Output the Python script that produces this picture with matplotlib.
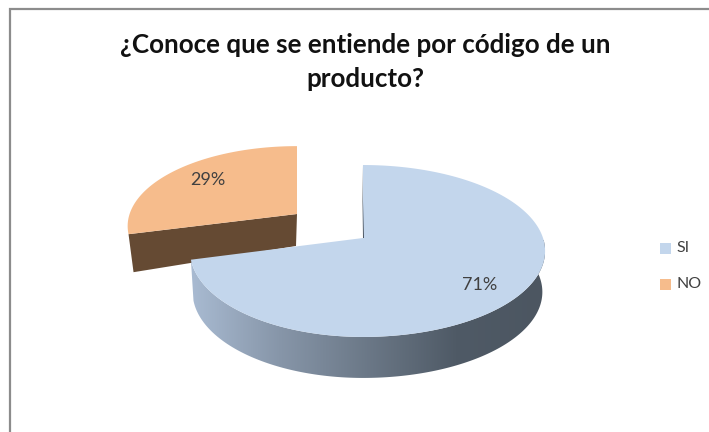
import numpy as np
import matplotlib
matplotlib.use("Agg")
import matplotlib.pyplot as plt
from matplotlib.colors import LinearSegmentedColormap
from matplotlib.patches import Polygon, Rectangle

TITLE = "¿Conoce que se entiende por código de un\nproducto?"
labels = ["SI", "NO"]
shares = [71, 29]
top_colors = ["#C3D6EC", "#F6BC8C"]
CUT_BROWN = "#654A33"

W, H = 709, 432
RX_RIGHT, RX_LEFT, RY, K = 180, 171, 84, 0.151  # pie radii and perspective strength
DEPTH = 41


def rim(a0, a1, scale=1.0, n=300, rx_left=RX_LEFT):
    # points of the pie rim, angles clockwise from 12 o'clock
    t = np.radians(np.linspace(a0, a1, n))
    u, v = np.sin(t), -np.cos(t)
    s = scale / (1 - K * v)
    return np.where(u > 0, RX_RIGHT, rx_left) * u * s, RY * v * s


plt.rcParams["font.family"] = ["Lato", "DejaVu Sans"]
fig = plt.figure(figsize=(W / 100, H / 100), dpi=100)
ax = fig.add_axes([0, 0, 1, 1])
ax.set_xlim(0, W)
ax.set_ylim(H, 0)
ax.axis("off")

# chart frame, only top and left edges are on the canvas
ax.plot([10, 10, W], [H, 9, 9], color="#8C8C8C", lw=1.6, solid_joinstyle="miter")

angle_si = shares[0] / sum(shares) * 360

# NO slice, pulled out and slightly further away
ox, oy = 297, 214
xs, ys = rim(angle_si, 360, scale=0.93, rx_left=180)
left_x, left_y = ox + xs[0], oy + ys[0]
ax.add_patch(Polygon([(ox, oy), (left_x, left_y), (left_x + 5, left_y + 38), (ox - 1, oy + 32)],
                     fc=CUT_BROWN, ec="none", zorder=2))
ax.add_patch(Polygon(np.r_[[[ox, oy]], np.c_[ox + xs, oy + ys]], fc=top_colors[1], ec="none", zorder=3))

# SI slice: gradient side wall first, then the top surface
cx, cy = 363, 238
xs, ys = rim(0, angle_si)
low_x, low_y = cx + xs * 0.985, cy + ys + DEPTH
wall = np.r_[np.c_[cx + xs, cy + ys], np.c_[low_x, low_y][::-1]]
side_cmap = LinearSegmentedColormap.from_list("side", ["#A9BBD2", "#8796A9", "#6B7887", "#4F5A66", "#4C5661"])
grad = np.linspace(0, 1, 256)[None, :]
im = ax.imshow(grad, extent=[190, 545, 385, 240], cmap=side_cmap, aspect="auto", zorder=4)
clip = Polygon(wall, transform=ax.transData, fc="none", ec="none")
ax.add_patch(clip)
im.set_clip_path(clip)
ax.set_xlim(0, W)
ax.set_ylim(H, 0)

ax.add_patch(Polygon(np.r_[[[cx, cy]], np.c_[cx + xs, cy + ys]], fc=top_colors[0], ec="none", zorder=5))
ax.add_patch(Polygon([(cx - 1, cy - 73), (cx + 1, cy), (cx, cy)], fc="#4C5661", ec="none", zorder=6))

# value labels
ax.text(208, 180, f"{shares[1]}%", ha="center", va="center", fontsize=13, color="#404040", zorder=7)
ax.text(480, 285, f"{shares[0]}%", ha="center", va="center", fontsize=13, color="#404040", zorder=7)

ax.text(365, 62, TITLE, ha="center", va="center", fontsize=18.7, fontweight="bold", color="#111111", linespacing=1.5)

# legend
for y, lab, col in zip([248, 284], labels, top_colors):
    ax.add_patch(Rectangle((660, y - 5), 11, 11, fc=col, ec="none"))
    ax.text(676, y, lab, ha="left", va="center", fontsize=11.5, color="#404040")

fig.savefig("out.png", dpi=100)
plt.close(fig)
